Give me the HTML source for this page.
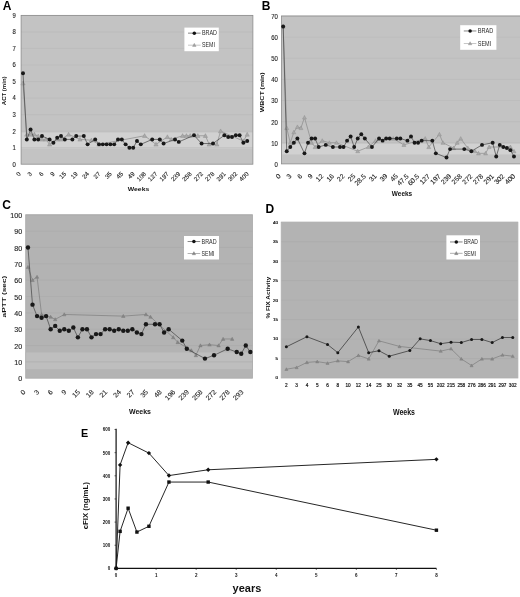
<!DOCTYPE html>
<html lang="en"><head><meta charset="utf-8"><title>Figure: ACT, WBCT, aPTT, FIX activity and cFIX over time</title>
<style>html,body{margin:0;padding:0;background:#fff}body{width:520px;height:597px;overflow:hidden}svg{display:block;will-change:transform;font-family:'Liberation Sans', Arial, Helvetica, sans-serif}</style>
</head><body>
<svg width="520" height="597" viewBox="0 0 520 597">
<rect width="520" height="597" fill="#fff"/>
<g>
<rect x="21.1" y="15.4" width="231.8" height="148.8" fill="#c3c3c3"/>
<rect x="21.1" y="132.46" width="231.8" height="16.04" fill="#d1d1d1"/>
<line x1="21.1" x2="252.9" y1="147.67" y2="147.67" stroke="#b7b7b7" stroke-width="0.5"/>
<line x1="21.1" x2="252.9" y1="131.13" y2="131.13" stroke="#b7b7b7" stroke-width="0.5"/>
<line x1="21.1" x2="252.9" y1="114.6" y2="114.6" stroke="#b7b7b7" stroke-width="0.5"/>
<line x1="21.1" x2="252.9" y1="98.07" y2="98.07" stroke="#b7b7b7" stroke-width="0.5"/>
<line x1="21.1" x2="252.9" y1="81.53" y2="81.53" stroke="#b7b7b7" stroke-width="0.5"/>
<line x1="21.1" x2="252.9" y1="65" y2="65" stroke="#b7b7b7" stroke-width="0.5"/>
<line x1="21.1" x2="252.9" y1="48.47" y2="48.47" stroke="#b7b7b7" stroke-width="0.5"/>
<line x1="21.1" x2="252.9" y1="31.93" y2="31.93" stroke="#b7b7b7" stroke-width="0.5"/>
<line x1="21.1" x2="252.9" y1="15.4" y2="15.4" stroke="#b7b7b7" stroke-width="0.5"/>
<rect x="21.1" y="15.4" width="231.8" height="148.8" fill="none" stroke="#8c8c8c" stroke-width="0.8"/>
<text transform="translate(15.9 166.58) scale(0.9 1)" font-size="6.6" text-anchor="end" fill="#1e1e1e" stroke="#1e1e1e" stroke-width="0.12">0</text>
<text transform="translate(15.9 150.04) scale(0.9 1)" font-size="6.6" text-anchor="end" fill="#1e1e1e" stroke="#1e1e1e" stroke-width="0.12">1</text>
<text transform="translate(15.9 133.51) scale(0.9 1)" font-size="6.6" text-anchor="end" fill="#1e1e1e" stroke="#1e1e1e" stroke-width="0.12">2</text>
<text transform="translate(15.9 116.98) scale(0.9 1)" font-size="6.6" text-anchor="end" fill="#1e1e1e" stroke="#1e1e1e" stroke-width="0.12">3</text>
<text transform="translate(15.9 100.44) scale(0.9 1)" font-size="6.6" text-anchor="end" fill="#1e1e1e" stroke="#1e1e1e" stroke-width="0.12">4</text>
<text transform="translate(15.9 83.91) scale(0.9 1)" font-size="6.6" text-anchor="end" fill="#1e1e1e" stroke="#1e1e1e" stroke-width="0.12">5</text>
<text transform="translate(15.9 67.38) scale(0.9 1)" font-size="6.6" text-anchor="end" fill="#1e1e1e" stroke="#1e1e1e" stroke-width="0.12">6</text>
<text transform="translate(15.9 50.84) scale(0.9 1)" font-size="6.6" text-anchor="end" fill="#1e1e1e" stroke="#1e1e1e" stroke-width="0.12">7</text>
<text transform="translate(15.9 34.31) scale(0.9 1)" font-size="6.6" text-anchor="end" fill="#1e1e1e" stroke="#1e1e1e" stroke-width="0.12">8</text>
<text transform="translate(15.9 17.78) scale(0.9 1)" font-size="6.6" text-anchor="end" fill="#1e1e1e" stroke="#1e1e1e" stroke-width="0.12">9</text>
<text transform="translate(21.1 174.4) rotate(-45)" font-size="6.2" text-anchor="end" fill="#1e1e1e" stroke="#1e1e1e" stroke-width="0.12">0</text>
<text transform="translate(32.5 174.4) rotate(-45)" font-size="6.2" text-anchor="end" fill="#1e1e1e" stroke="#1e1e1e" stroke-width="0.12">3</text>
<text transform="translate(43.9 174.4) rotate(-45)" font-size="6.2" text-anchor="end" fill="#1e1e1e" stroke="#1e1e1e" stroke-width="0.12">6</text>
<text transform="translate(55.3 174.4) rotate(-45)" font-size="6.2" text-anchor="end" fill="#1e1e1e" stroke="#1e1e1e" stroke-width="0.12">9</text>
<text transform="translate(66.7 174.4) rotate(-45)" font-size="6.2" text-anchor="end" fill="#1e1e1e" stroke="#1e1e1e" stroke-width="0.12">15</text>
<text transform="translate(78.1 174.4) rotate(-45)" font-size="6.2" text-anchor="end" fill="#1e1e1e" stroke="#1e1e1e" stroke-width="0.12">19</text>
<text transform="translate(89.5 174.4) rotate(-45)" font-size="6.2" text-anchor="end" fill="#1e1e1e" stroke="#1e1e1e" stroke-width="0.12">24</text>
<text transform="translate(100.9 174.4) rotate(-45)" font-size="6.2" text-anchor="end" fill="#1e1e1e" stroke="#1e1e1e" stroke-width="0.12">27</text>
<text transform="translate(112.3 174.4) rotate(-45)" font-size="6.2" text-anchor="end" fill="#1e1e1e" stroke="#1e1e1e" stroke-width="0.12">35</text>
<text transform="translate(123.7 174.4) rotate(-45)" font-size="6.2" text-anchor="end" fill="#1e1e1e" stroke="#1e1e1e" stroke-width="0.12">45</text>
<text transform="translate(135.1 174.4) rotate(-45)" font-size="6.2" text-anchor="end" fill="#1e1e1e" stroke="#1e1e1e" stroke-width="0.12">49</text>
<text transform="translate(146.5 174.4) rotate(-45)" font-size="6.2" text-anchor="end" fill="#1e1e1e" stroke="#1e1e1e" stroke-width="0.12">108</text>
<text transform="translate(157.9 174.4) rotate(-45)" font-size="6.2" text-anchor="end" fill="#1e1e1e" stroke="#1e1e1e" stroke-width="0.12">127</text>
<text transform="translate(169.3 174.4) rotate(-45)" font-size="6.2" text-anchor="end" fill="#1e1e1e" stroke="#1e1e1e" stroke-width="0.12">197</text>
<text transform="translate(180.7 174.4) rotate(-45)" font-size="6.2" text-anchor="end" fill="#1e1e1e" stroke="#1e1e1e" stroke-width="0.12">239</text>
<text transform="translate(192.1 174.4) rotate(-45)" font-size="6.2" text-anchor="end" fill="#1e1e1e" stroke="#1e1e1e" stroke-width="0.12">258</text>
<text transform="translate(203.5 174.4) rotate(-45)" font-size="6.2" text-anchor="end" fill="#1e1e1e" stroke="#1e1e1e" stroke-width="0.12">272</text>
<text transform="translate(214.9 174.4) rotate(-45)" font-size="6.2" text-anchor="end" fill="#1e1e1e" stroke="#1e1e1e" stroke-width="0.12">278</text>
<text transform="translate(226.3 174.4) rotate(-45)" font-size="6.2" text-anchor="end" fill="#1e1e1e" stroke="#1e1e1e" stroke-width="0.12">291</text>
<text transform="translate(237.7 174.4) rotate(-45)" font-size="6.2" text-anchor="end" fill="#1e1e1e" stroke="#1e1e1e" stroke-width="0.12">302</text>
<text transform="translate(249.1 174.4) rotate(-45)" font-size="6.2" text-anchor="end" fill="#1e1e1e" stroke="#1e1e1e" stroke-width="0.12">400</text>
<polyline fill="none" stroke="#8a8a8a" stroke-width="0.7" stroke-linejoin="round" points="23,83.19 26.8,134.44 30.6,134.44 34.4,134.44 38.2,136.09 42,139.4 45.8,139.4 49.6,144.36 57.2,139.4 61,139.4 68.6,134.44 80,139.4 91.4,140.23 99,144.36 144.6,135.76 156,144.36 167.4,136.92 171.2,139.4 182.6,135.76 186.4,135.76 190.2,135.76 197.8,135.76 205.4,135.76 209.2,144.36 216.8,144.36 220.6,131.13 243.4,141.05 247.2,134.44"/>
<path d="M23 81.04l2.15 3.87h-4.3zM26.8 132.29l2.15 3.87h-4.3zM30.6 132.29l2.15 3.87h-4.3zM34.4 132.29l2.15 3.87h-4.3zM38.2 133.94l2.15 3.87h-4.3zM42 137.25l2.15 3.87h-4.3zM45.8 137.25l2.15 3.87h-4.3zM49.6 142.21l2.15 3.87h-4.3zM57.2 137.25l2.15 3.87h-4.3zM61 137.25l2.15 3.87h-4.3zM68.6 132.29l2.15 3.87h-4.3zM80 137.25l2.15 3.87h-4.3zM91.4 138.08l2.15 3.87h-4.3zM99 142.21l2.15 3.87h-4.3zM144.6 133.61l2.15 3.87h-4.3zM156 142.21l2.15 3.87h-4.3zM167.4 134.77l2.15 3.87h-4.3zM171.2 137.25l2.15 3.87h-4.3zM182.6 133.61l2.15 3.87h-4.3zM186.4 133.61l2.15 3.87h-4.3zM190.2 133.61l2.15 3.87h-4.3zM197.8 133.61l2.15 3.87h-4.3zM205.4 133.61l2.15 3.87h-4.3zM209.2 142.21l2.15 3.87h-4.3zM216.8 142.21l2.15 3.87h-4.3zM220.6 128.98l2.15 3.87h-4.3zM243.4 138.9l2.15 3.87h-4.3zM247.2 132.29l2.15 3.87h-4.3z" fill="#a9a9a9" stroke="#8c8c8c" stroke-width="0.4"/>
<polyline fill="none" stroke="#3a3a3a" stroke-width="0.65" stroke-linejoin="round" points="23,73.27 26.8,139.4 30.6,129.48 34.4,139.4 38.2,139.4 42,136.09 49.6,139.4 53.4,142.71 57.2,137.75 61,136.09 64.8,139.4 72.4,139.4 76.2,136.09 83.8,136.09 87.6,144.36 95.2,139.4 99,144.36 102.8,144.36 106.6,144.36 110.4,144.36 114.2,144.36 118,139.4 121.8,139.4 125.6,144.36 129.4,147.67 133.2,147.67 137,141.05 140.8,144.36 152.2,139.4 159.8,139.4 163.6,143.53 175,139.4 178.8,141.88 194,135.27 201.6,143.53 213,143.53 224.4,135.27 228.2,136.92 232,136.92 235.8,135.27 239.6,135.27 243.4,142.71 247.2,141.05"/>
<circle cx="23" cy="73.27" r="1.98" fill="#181818"/>
<circle cx="26.8" cy="139.4" r="1.98" fill="#181818"/>
<circle cx="30.6" cy="129.48" r="1.98" fill="#181818"/>
<circle cx="34.4" cy="139.4" r="1.98" fill="#181818"/>
<circle cx="38.2" cy="139.4" r="1.98" fill="#181818"/>
<circle cx="42" cy="136.09" r="1.98" fill="#181818"/>
<circle cx="49.6" cy="139.4" r="1.98" fill="#181818"/>
<circle cx="53.4" cy="142.71" r="1.98" fill="#181818"/>
<circle cx="57.2" cy="137.75" r="1.98" fill="#181818"/>
<circle cx="61" cy="136.09" r="1.98" fill="#181818"/>
<circle cx="64.8" cy="139.4" r="1.98" fill="#181818"/>
<circle cx="72.4" cy="139.4" r="1.98" fill="#181818"/>
<circle cx="76.2" cy="136.09" r="1.98" fill="#181818"/>
<circle cx="83.8" cy="136.09" r="1.98" fill="#181818"/>
<circle cx="87.6" cy="144.36" r="1.98" fill="#181818"/>
<circle cx="95.2" cy="139.4" r="1.98" fill="#181818"/>
<circle cx="99" cy="144.36" r="1.98" fill="#181818"/>
<circle cx="102.8" cy="144.36" r="1.98" fill="#181818"/>
<circle cx="106.6" cy="144.36" r="1.98" fill="#181818"/>
<circle cx="110.4" cy="144.36" r="1.98" fill="#181818"/>
<circle cx="114.2" cy="144.36" r="1.98" fill="#181818"/>
<circle cx="118" cy="139.4" r="1.98" fill="#181818"/>
<circle cx="121.8" cy="139.4" r="1.98" fill="#181818"/>
<circle cx="125.6" cy="144.36" r="1.98" fill="#181818"/>
<circle cx="129.4" cy="147.67" r="1.98" fill="#181818"/>
<circle cx="133.2" cy="147.67" r="1.98" fill="#181818"/>
<circle cx="137" cy="141.05" r="1.98" fill="#181818"/>
<circle cx="140.8" cy="144.36" r="1.98" fill="#181818"/>
<circle cx="152.2" cy="139.4" r="1.98" fill="#181818"/>
<circle cx="159.8" cy="139.4" r="1.98" fill="#181818"/>
<circle cx="163.6" cy="143.53" r="1.98" fill="#181818"/>
<circle cx="175" cy="139.4" r="1.98" fill="#181818"/>
<circle cx="178.8" cy="141.88" r="1.98" fill="#181818"/>
<circle cx="194" cy="135.27" r="1.98" fill="#181818"/>
<circle cx="201.6" cy="143.53" r="1.98" fill="#181818"/>
<circle cx="213" cy="143.53" r="1.98" fill="#181818"/>
<circle cx="224.4" cy="135.27" r="1.98" fill="#181818"/>
<circle cx="228.2" cy="136.92" r="1.98" fill="#181818"/>
<circle cx="232" cy="136.92" r="1.98" fill="#181818"/>
<circle cx="235.8" cy="135.27" r="1.98" fill="#181818"/>
<circle cx="239.6" cy="135.27" r="1.98" fill="#181818"/>
<circle cx="243.4" cy="142.71" r="1.98" fill="#181818"/>
<circle cx="247.2" cy="141.05" r="1.98" fill="#181818"/>
<rect x="184.4" y="27.6" width="34.4" height="23.6" fill="#fff"/>
<line x1="188" x2="200.6" y1="33.15" y2="33.15" stroke="#333" stroke-width="0.6"/>
<circle cx="194.3" cy="33.15" r="1.75" fill="#111"/>
<text x="202" y="35.41" font-size="6.3" fill="#2a2a2a" textLength="15" lengthAdjust="spacingAndGlyphs">BRAD</text>
<line x1="188" x2="200.6" y1="45.18" y2="45.18" stroke="#a0a0a0" stroke-width="0.6"/>
<path d="M194.3 43.28l1.8 3.2h-3.6z" fill="#a2a2a2" stroke="#808080" stroke-width="0.3"/>
<text x="202" y="47.45" font-size="6.3" fill="#2a2a2a" textLength="12.9" lengthAdjust="spacingAndGlyphs">SEMI</text>
<text x="127.75" y="190.8" font-size="6.2" font-weight="bold" fill="#111" textLength="21.5" lengthAdjust="spacingAndGlyphs">Weeks</text>
<text transform="translate(5.5 105.2) rotate(-90)" font-size="5.8" font-weight="bold" fill="#111" textLength="28.8" lengthAdjust="spacingAndGlyphs">ACT (min)</text>
<text x="2.7" y="9.5" font-size="12" font-weight="bold" fill="#000">A</text>
</g>
<g>
<rect x="281.4" y="16" width="240.1" height="147.9" fill="#c3c3c3"/>
<rect x="281.4" y="143.62" width="240.1" height="10.78" fill="#d1d1d1"/>
<line x1="281.4" x2="521.5" y1="142.77" y2="142.77" stroke="#b7b7b7" stroke-width="0.5"/>
<line x1="281.4" x2="521.5" y1="121.64" y2="121.64" stroke="#b7b7b7" stroke-width="0.5"/>
<line x1="281.4" x2="521.5" y1="100.51" y2="100.51" stroke="#b7b7b7" stroke-width="0.5"/>
<line x1="281.4" x2="521.5" y1="79.39" y2="79.39" stroke="#b7b7b7" stroke-width="0.5"/>
<line x1="281.4" x2="521.5" y1="58.26" y2="58.26" stroke="#b7b7b7" stroke-width="0.5"/>
<line x1="281.4" x2="521.5" y1="37.13" y2="37.13" stroke="#b7b7b7" stroke-width="0.5"/>
<line x1="281.4" x2="521.5" y1="16" y2="16" stroke="#b7b7b7" stroke-width="0.5"/>
<rect x="281.4" y="16" width="240.1" height="147.9" fill="none" stroke="#8c8c8c" stroke-width="0.8"/>
<text transform="translate(277.9 166.85) scale(0.88 1)" font-size="6.8" text-anchor="end" fill="#1e1e1e" stroke="#1e1e1e" stroke-width="0.12">0</text>
<text transform="translate(277.9 145.72) scale(0.88 1)" font-size="6.8" text-anchor="end" fill="#1e1e1e" stroke="#1e1e1e" stroke-width="0.12">10</text>
<text transform="translate(277.9 124.59) scale(0.88 1)" font-size="6.8" text-anchor="end" fill="#1e1e1e" stroke="#1e1e1e" stroke-width="0.12">20</text>
<text transform="translate(277.9 103.46) scale(0.88 1)" font-size="6.8" text-anchor="end" fill="#1e1e1e" stroke="#1e1e1e" stroke-width="0.12">30</text>
<text transform="translate(277.9 82.33) scale(0.88 1)" font-size="6.8" text-anchor="end" fill="#1e1e1e" stroke="#1e1e1e" stroke-width="0.12">40</text>
<text transform="translate(277.9 61.21) scale(0.88 1)" font-size="6.8" text-anchor="end" fill="#1e1e1e" stroke="#1e1e1e" stroke-width="0.12">50</text>
<text transform="translate(277.9 40.08) scale(0.88 1)" font-size="6.8" text-anchor="end" fill="#1e1e1e" stroke="#1e1e1e" stroke-width="0.12">60</text>
<text transform="translate(277.9 18.95) scale(0.88 1)" font-size="6.8" text-anchor="end" fill="#1e1e1e" stroke="#1e1e1e" stroke-width="0.12">70</text>
<text transform="translate(281.28 176.7) rotate(-45)" font-size="6.8" text-anchor="end" fill="#1e1e1e" stroke="#1e1e1e" stroke-width="0.12">0</text>
<text transform="translate(291.93 176.7) rotate(-45)" font-size="6.8" text-anchor="end" fill="#1e1e1e" stroke="#1e1e1e" stroke-width="0.12">3</text>
<text transform="translate(302.58 176.7) rotate(-45)" font-size="6.8" text-anchor="end" fill="#1e1e1e" stroke="#1e1e1e" stroke-width="0.12">6</text>
<text transform="translate(313.23 176.7) rotate(-45)" font-size="6.8" text-anchor="end" fill="#1e1e1e" stroke="#1e1e1e" stroke-width="0.12">9</text>
<text transform="translate(323.88 176.7) rotate(-45)" font-size="6.8" text-anchor="end" fill="#1e1e1e" stroke="#1e1e1e" stroke-width="0.12">12</text>
<text transform="translate(334.54 176.7) rotate(-45)" font-size="6.8" text-anchor="end" fill="#1e1e1e" stroke="#1e1e1e" stroke-width="0.12">16</text>
<text transform="translate(345.19 176.7) rotate(-45)" font-size="6.8" text-anchor="end" fill="#1e1e1e" stroke="#1e1e1e" stroke-width="0.12">22</text>
<text transform="translate(355.84 176.7) rotate(-45)" font-size="6.8" text-anchor="end" fill="#1e1e1e" stroke="#1e1e1e" stroke-width="0.12">25</text>
<text transform="translate(366.49 176.7) rotate(-45)" font-size="6.8" text-anchor="end" fill="#1e1e1e" stroke="#1e1e1e" stroke-width="0.12">28.5</text>
<text transform="translate(377.15 176.7) rotate(-45)" font-size="6.8" text-anchor="end" fill="#1e1e1e" stroke="#1e1e1e" stroke-width="0.12">31</text>
<text transform="translate(387.8 176.7) rotate(-45)" font-size="6.8" text-anchor="end" fill="#1e1e1e" stroke="#1e1e1e" stroke-width="0.12">39</text>
<text transform="translate(398.45 176.7) rotate(-45)" font-size="6.8" text-anchor="end" fill="#1e1e1e" stroke="#1e1e1e" stroke-width="0.12">45</text>
<text transform="translate(409.1 176.7) rotate(-45)" font-size="6.8" text-anchor="end" fill="#1e1e1e" stroke="#1e1e1e" stroke-width="0.12">47.5</text>
<text transform="translate(419.75 176.7) rotate(-45)" font-size="6.8" text-anchor="end" fill="#1e1e1e" stroke="#1e1e1e" stroke-width="0.12">60.5</text>
<text transform="translate(430.41 176.7) rotate(-45)" font-size="6.8" text-anchor="end" fill="#1e1e1e" stroke="#1e1e1e" stroke-width="0.12">127</text>
<text transform="translate(441.06 176.7) rotate(-45)" font-size="6.8" text-anchor="end" fill="#1e1e1e" stroke="#1e1e1e" stroke-width="0.12">197</text>
<text transform="translate(451.71 176.7) rotate(-45)" font-size="6.8" text-anchor="end" fill="#1e1e1e" stroke="#1e1e1e" stroke-width="0.12">239</text>
<text transform="translate(462.36 176.7) rotate(-45)" font-size="6.8" text-anchor="end" fill="#1e1e1e" stroke="#1e1e1e" stroke-width="0.12">258</text>
<text transform="translate(473.02 176.7) rotate(-45)" font-size="6.8" text-anchor="end" fill="#1e1e1e" stroke="#1e1e1e" stroke-width="0.12">272</text>
<text transform="translate(483.67 176.7) rotate(-45)" font-size="6.8" text-anchor="end" fill="#1e1e1e" stroke="#1e1e1e" stroke-width="0.12">278</text>
<text transform="translate(494.32 176.7) rotate(-45)" font-size="6.8" text-anchor="end" fill="#1e1e1e" stroke="#1e1e1e" stroke-width="0.12">291</text>
<text transform="translate(504.97 176.7) rotate(-45)" font-size="6.8" text-anchor="end" fill="#1e1e1e" stroke="#1e1e1e" stroke-width="0.12">302</text>
<text transform="translate(515.62 176.7) rotate(-45)" font-size="6.8" text-anchor="end" fill="#1e1e1e" stroke="#1e1e1e" stroke-width="0.12">400</text>
<polyline fill="none" stroke="#8a8a8a" stroke-width="0.7" stroke-linejoin="round" points="283.18,26.56 286.73,127.98 290.28,142.77 293.83,132.21 297.38,126.93 300.93,127.98 304.48,117.42 311.58,142.77 315.13,147 322.23,140.66 329.34,142.77 336.44,142.77 357.74,151.22 368.39,147 375.49,140.66 393.25,138.55 403.9,144.88 425.21,138.55 428.76,147 439.41,134.32 442.96,142.77 453.61,148.05 457.16,142.77 460.71,138.55 467.81,148.05 474.92,151.22 478.47,153.34 485.57,153.34 489.12,147 510.42,147 513.97,151.22"/>
<path d="M283.18 24.56l2 3.6h-4zM286.73 125.98l2 3.6h-4zM290.28 140.77l2 3.6h-4zM293.83 130.21l2 3.6h-4zM297.38 124.93l2 3.6h-4zM300.93 125.98l2 3.6h-4zM304.48 115.42l2 3.6h-4zM311.58 140.77l2 3.6h-4zM315.13 145l2 3.6h-4zM322.23 138.66l2 3.6h-4zM329.34 140.77l2 3.6h-4zM336.44 140.77l2 3.6h-4zM357.74 149.22l2 3.6h-4zM368.39 145l2 3.6h-4zM375.49 138.66l2 3.6h-4zM393.25 136.55l2 3.6h-4zM403.9 142.88l2 3.6h-4zM425.21 136.55l2 3.6h-4zM428.76 145l2 3.6h-4zM439.41 132.32l2 3.6h-4zM442.96 140.77l2 3.6h-4zM453.61 146.05l2 3.6h-4zM457.16 140.77l2 3.6h-4zM460.71 136.55l2 3.6h-4zM467.81 146.05l2 3.6h-4zM474.92 149.22l2 3.6h-4zM478.47 151.34l2 3.6h-4zM485.57 151.34l2 3.6h-4zM489.12 145l2 3.6h-4zM510.42 145l2 3.6h-4zM513.97 149.22l2 3.6h-4z" fill="#a9a9a9" stroke="#8c8c8c" stroke-width="0.4"/>
<polyline fill="none" stroke="#3a3a3a" stroke-width="0.65" stroke-linejoin="round" points="283.18,26.56 286.73,151.22 290.28,147 293.83,142.77 297.38,138.55 304.48,153.34 308.03,142.77 311.58,138.55 315.13,138.55 318.68,147 325.78,144.88 332.89,147 339.99,147 343.54,147 347.09,140.66 350.64,136.43 354.19,147 357.74,138.55 361.29,134.32 364.84,138.55 371.94,147 379.05,138.55 382.6,140.66 386.15,138.55 389.7,138.55 396.8,138.55 400.35,138.55 407.45,140.66 411,136.43 414.55,142.77 418.1,142.77 421.65,140.66 432.31,140.66 435.86,153.34 446.51,157.56 450.06,149.11 464.26,149.11 471.36,151.22 482.02,144.88 492.67,142.77 496.22,156.5 499.77,144.88 503.32,147 506.87,148.05 510.42,150.17 513.97,156.5"/>
<circle cx="283.18" cy="26.56" r="1.95" fill="#181818"/>
<circle cx="286.73" cy="151.22" r="1.95" fill="#181818"/>
<circle cx="290.28" cy="147" r="1.95" fill="#181818"/>
<circle cx="293.83" cy="142.77" r="1.95" fill="#181818"/>
<circle cx="297.38" cy="138.55" r="1.95" fill="#181818"/>
<circle cx="304.48" cy="153.34" r="1.95" fill="#181818"/>
<circle cx="308.03" cy="142.77" r="1.95" fill="#181818"/>
<circle cx="311.58" cy="138.55" r="1.95" fill="#181818"/>
<circle cx="315.13" cy="138.55" r="1.95" fill="#181818"/>
<circle cx="318.68" cy="147" r="1.95" fill="#181818"/>
<circle cx="325.78" cy="144.88" r="1.95" fill="#181818"/>
<circle cx="332.89" cy="147" r="1.95" fill="#181818"/>
<circle cx="339.99" cy="147" r="1.95" fill="#181818"/>
<circle cx="343.54" cy="147" r="1.95" fill="#181818"/>
<circle cx="347.09" cy="140.66" r="1.95" fill="#181818"/>
<circle cx="350.64" cy="136.43" r="1.95" fill="#181818"/>
<circle cx="354.19" cy="147" r="1.95" fill="#181818"/>
<circle cx="357.74" cy="138.55" r="1.95" fill="#181818"/>
<circle cx="361.29" cy="134.32" r="1.95" fill="#181818"/>
<circle cx="364.84" cy="138.55" r="1.95" fill="#181818"/>
<circle cx="371.94" cy="147" r="1.95" fill="#181818"/>
<circle cx="379.05" cy="138.55" r="1.95" fill="#181818"/>
<circle cx="382.6" cy="140.66" r="1.95" fill="#181818"/>
<circle cx="386.15" cy="138.55" r="1.95" fill="#181818"/>
<circle cx="389.7" cy="138.55" r="1.95" fill="#181818"/>
<circle cx="396.8" cy="138.55" r="1.95" fill="#181818"/>
<circle cx="400.35" cy="138.55" r="1.95" fill="#181818"/>
<circle cx="407.45" cy="140.66" r="1.95" fill="#181818"/>
<circle cx="411" cy="136.43" r="1.95" fill="#181818"/>
<circle cx="414.55" cy="142.77" r="1.95" fill="#181818"/>
<circle cx="418.1" cy="142.77" r="1.95" fill="#181818"/>
<circle cx="421.65" cy="140.66" r="1.95" fill="#181818"/>
<circle cx="432.31" cy="140.66" r="1.95" fill="#181818"/>
<circle cx="435.86" cy="153.34" r="1.95" fill="#181818"/>
<circle cx="446.51" cy="157.56" r="1.95" fill="#181818"/>
<circle cx="450.06" cy="149.11" r="1.95" fill="#181818"/>
<circle cx="464.26" cy="149.11" r="1.95" fill="#181818"/>
<circle cx="471.36" cy="151.22" r="1.95" fill="#181818"/>
<circle cx="482.02" cy="144.88" r="1.95" fill="#181818"/>
<circle cx="492.67" cy="142.77" r="1.95" fill="#181818"/>
<circle cx="496.22" cy="156.5" r="1.95" fill="#181818"/>
<circle cx="499.77" cy="144.88" r="1.95" fill="#181818"/>
<circle cx="503.32" cy="147" r="1.95" fill="#181818"/>
<circle cx="506.87" cy="148.05" r="1.95" fill="#181818"/>
<circle cx="510.42" cy="150.17" r="1.95" fill="#181818"/>
<circle cx="513.97" cy="156.5" r="1.95" fill="#181818"/>
<rect x="460.2" y="25.2" width="36.2" height="24.6" fill="#fff"/>
<line x1="463.8" x2="476.4" y1="30.98" y2="30.98" stroke="#333" stroke-width="0.6"/>
<circle cx="470.1" cy="30.98" r="1.75" fill="#111"/>
<text x="477.8" y="33.25" font-size="6.3" fill="#2a2a2a" textLength="15.6" lengthAdjust="spacingAndGlyphs">BRAD</text>
<line x1="463.8" x2="476.4" y1="43.53" y2="43.53" stroke="#a0a0a0" stroke-width="0.6"/>
<path d="M470.1 41.63l1.8 3.2h-3.6z" fill="#a2a2a2" stroke="#808080" stroke-width="0.3"/>
<text x="477.8" y="45.8" font-size="6.3" fill="#2a2a2a" textLength="13.42" lengthAdjust="spacingAndGlyphs">SEMI</text>
<text x="391.85" y="196" font-size="6.5" font-weight="bold" fill="#111" textLength="20.3" lengthAdjust="spacingAndGlyphs">Weeks</text>
<text transform="translate(264.3 112.25) rotate(-90)" font-size="5.9" font-weight="bold" fill="#111" textLength="39.9" lengthAdjust="spacingAndGlyphs">WBCT (min)</text>
<text x="261.8" y="10.4" font-size="12" font-weight="bold" fill="#000">B</text>
</g>
<g>
<rect x="25.7" y="214.8" width="226.9" height="163.4" fill="#b3b3b3"/>
<rect x="25.7" y="352.38" width="226.9" height="16.83" fill="#bebebe"/>
<line x1="25.7" x2="252.6" y1="361.86" y2="361.86" stroke="#a9a9a9" stroke-width="0.5"/>
<line x1="25.7" x2="252.6" y1="345.52" y2="345.52" stroke="#a9a9a9" stroke-width="0.5"/>
<line x1="25.7" x2="252.6" y1="329.18" y2="329.18" stroke="#a9a9a9" stroke-width="0.5"/>
<line x1="25.7" x2="252.6" y1="312.84" y2="312.84" stroke="#a9a9a9" stroke-width="0.5"/>
<line x1="25.7" x2="252.6" y1="296.5" y2="296.5" stroke="#a9a9a9" stroke-width="0.5"/>
<line x1="25.7" x2="252.6" y1="280.16" y2="280.16" stroke="#a9a9a9" stroke-width="0.5"/>
<line x1="25.7" x2="252.6" y1="263.82" y2="263.82" stroke="#a9a9a9" stroke-width="0.5"/>
<line x1="25.7" x2="252.6" y1="247.48" y2="247.48" stroke="#a9a9a9" stroke-width="0.5"/>
<line x1="25.7" x2="252.6" y1="231.14" y2="231.14" stroke="#a9a9a9" stroke-width="0.5"/>
<line x1="25.7" x2="252.6" y1="214.8" y2="214.8" stroke="#a9a9a9" stroke-width="0.5"/>
<rect x="25.7" y="214.8" width="226.9" height="163.4" fill="none" stroke="#aaaaaa" stroke-width="0.8"/>
<text transform="translate(22.2 381.48) scale(1.08 1)" font-size="6.6" text-anchor="end" fill="#1e1e1e" stroke="#1e1e1e" stroke-width="0.12">0</text>
<text transform="translate(22.2 365.14) scale(1.08 1)" font-size="6.6" text-anchor="end" fill="#1e1e1e" stroke="#1e1e1e" stroke-width="0.12">10</text>
<text transform="translate(22.2 348.8) scale(1.08 1)" font-size="6.6" text-anchor="end" fill="#1e1e1e" stroke="#1e1e1e" stroke-width="0.12">20</text>
<text transform="translate(22.2 332.46) scale(1.08 1)" font-size="6.6" text-anchor="end" fill="#1e1e1e" stroke="#1e1e1e" stroke-width="0.12">30</text>
<text transform="translate(22.2 316.12) scale(1.08 1)" font-size="6.6" text-anchor="end" fill="#1e1e1e" stroke="#1e1e1e" stroke-width="0.12">40</text>
<text transform="translate(22.2 299.78) scale(1.08 1)" font-size="6.6" text-anchor="end" fill="#1e1e1e" stroke="#1e1e1e" stroke-width="0.12">50</text>
<text transform="translate(22.2 283.44) scale(1.08 1)" font-size="6.6" text-anchor="end" fill="#1e1e1e" stroke="#1e1e1e" stroke-width="0.12">60</text>
<text transform="translate(22.2 267.1) scale(1.08 1)" font-size="6.6" text-anchor="end" fill="#1e1e1e" stroke="#1e1e1e" stroke-width="0.12">70</text>
<text transform="translate(22.2 250.76) scale(1.08 1)" font-size="6.6" text-anchor="end" fill="#1e1e1e" stroke="#1e1e1e" stroke-width="0.12">80</text>
<text transform="translate(22.2 234.42) scale(1.08 1)" font-size="6.6" text-anchor="end" fill="#1e1e1e" stroke="#1e1e1e" stroke-width="0.12">90</text>
<text transform="translate(22.2 218.08) scale(1.08 1)" font-size="6.6" text-anchor="end" fill="#1e1e1e" stroke="#1e1e1e" stroke-width="0.12">100</text>
<text transform="translate(26.07 392.6) rotate(-45)" font-size="6.9" text-anchor="end" fill="#1e1e1e" stroke="#1e1e1e" stroke-width="0.12">0</text>
<text transform="translate(39.68 392.6) rotate(-45)" font-size="6.9" text-anchor="end" fill="#1e1e1e" stroke="#1e1e1e" stroke-width="0.12">3</text>
<text transform="translate(53.3 392.6) rotate(-45)" font-size="6.9" text-anchor="end" fill="#1e1e1e" stroke="#1e1e1e" stroke-width="0.12">6</text>
<text transform="translate(66.91 392.6) rotate(-45)" font-size="6.9" text-anchor="end" fill="#1e1e1e" stroke="#1e1e1e" stroke-width="0.12">9</text>
<text transform="translate(80.52 392.6) rotate(-45)" font-size="6.9" text-anchor="end" fill="#1e1e1e" stroke="#1e1e1e" stroke-width="0.12">15</text>
<text transform="translate(94.14 392.6) rotate(-45)" font-size="6.9" text-anchor="end" fill="#1e1e1e" stroke="#1e1e1e" stroke-width="0.12">18</text>
<text transform="translate(107.75 392.6) rotate(-45)" font-size="6.9" text-anchor="end" fill="#1e1e1e" stroke="#1e1e1e" stroke-width="0.12">21</text>
<text transform="translate(121.37 392.6) rotate(-45)" font-size="6.9" text-anchor="end" fill="#1e1e1e" stroke="#1e1e1e" stroke-width="0.12">24</text>
<text transform="translate(134.98 392.6) rotate(-45)" font-size="6.9" text-anchor="end" fill="#1e1e1e" stroke="#1e1e1e" stroke-width="0.12">27</text>
<text transform="translate(148.59 392.6) rotate(-45)" font-size="6.9" text-anchor="end" fill="#1e1e1e" stroke="#1e1e1e" stroke-width="0.12">35</text>
<text transform="translate(162.21 392.6) rotate(-45)" font-size="6.9" text-anchor="end" fill="#1e1e1e" stroke="#1e1e1e" stroke-width="0.12">48</text>
<text transform="translate(175.82 392.6) rotate(-45)" font-size="6.9" text-anchor="end" fill="#1e1e1e" stroke="#1e1e1e" stroke-width="0.12">196</text>
<text transform="translate(189.44 392.6) rotate(-45)" font-size="6.9" text-anchor="end" fill="#1e1e1e" stroke="#1e1e1e" stroke-width="0.12">239</text>
<text transform="translate(203.05 392.6) rotate(-45)" font-size="6.9" text-anchor="end" fill="#1e1e1e" stroke="#1e1e1e" stroke-width="0.12">258</text>
<text transform="translate(216.66 392.6) rotate(-45)" font-size="6.9" text-anchor="end" fill="#1e1e1e" stroke="#1e1e1e" stroke-width="0.12">272</text>
<text transform="translate(230.28 392.6) rotate(-45)" font-size="6.9" text-anchor="end" fill="#1e1e1e" stroke="#1e1e1e" stroke-width="0.12">278</text>
<text transform="translate(243.89 392.6) rotate(-45)" font-size="6.9" text-anchor="end" fill="#1e1e1e" stroke="#1e1e1e" stroke-width="0.12">293</text>
<polyline fill="none" stroke="#7d7d7d" stroke-width="0.7" stroke-linejoin="round" points="27.97,267.09 32.51,280.16 37.05,276.89 41.58,314.47 46.12,316.11 50.66,316.93 55.2,319.38 64.27,314.47 123.27,316.11 145.96,314.47 150.5,316.93 173.19,337.35 177.72,342.25 191.34,350.42 195.88,355.32 200.41,345.52 209.49,344.7 218.56,345.52 223.1,338.98 232.18,338.98"/>
<path d="M27.97 265.34l1.75 3.15h-3.5zM32.51 278.41l1.75 3.15h-3.5zM37.05 275.14l1.75 3.15h-3.5zM41.58 312.72l1.75 3.15h-3.5zM46.12 314.36l1.75 3.15h-3.5zM50.66 315.18l1.75 3.15h-3.5zM55.2 317.63l1.75 3.15h-3.5zM64.27 312.72l1.75 3.15h-3.5zM123.27 314.36l1.75 3.15h-3.5zM145.96 312.72l1.75 3.15h-3.5zM150.5 315.18l1.75 3.15h-3.5zM173.19 335.6l1.75 3.15h-3.5zM177.72 340.5l1.75 3.15h-3.5zM191.34 348.67l1.75 3.15h-3.5zM195.88 353.57l1.75 3.15h-3.5zM200.41 343.77l1.75 3.15h-3.5zM209.49 342.95l1.75 3.15h-3.5zM218.56 343.77l1.75 3.15h-3.5zM223.1 337.23l1.75 3.15h-3.5zM232.18 337.23l1.75 3.15h-3.5z" fill="#868686" stroke="#777" stroke-width="0.4"/>
<polyline fill="none" stroke="#3a3a3a" stroke-width="0.65" stroke-linejoin="round" points="27.97,247.48 32.51,304.67 37.05,316.11 41.58,317.74 46.12,316.11 50.66,329.18 55.2,325.91 59.73,330.81 64.27,329.18 68.81,330.81 73.35,327.55 77.89,337.35 82.42,329.18 86.96,329.18 91.5,337.35 96.04,334.08 100.58,334.08 105.12,329.18 109.65,329.18 114.19,330.81 118.73,329.18 123.27,330.81 127.81,330.81 132.34,329.18 136.88,332.45 141.42,334.08 145.96,324.28 155.03,324.28 159.57,324.28 164.11,332.45 168.65,329.18 182.26,340.62 186.8,348.79 204.95,358.59 214.03,355.32 227.64,348.79 236.72,352.06 241.25,353.69 245.79,345.52 250.33,352.06"/>
<circle cx="27.97" cy="247.48" r="2.2" fill="#181818"/>
<circle cx="32.51" cy="304.67" r="2.2" fill="#181818"/>
<circle cx="37.05" cy="316.11" r="2.2" fill="#181818"/>
<circle cx="41.58" cy="317.74" r="2.2" fill="#181818"/>
<circle cx="46.12" cy="316.11" r="2.2" fill="#181818"/>
<circle cx="50.66" cy="329.18" r="2.2" fill="#181818"/>
<circle cx="55.2" cy="325.91" r="2.2" fill="#181818"/>
<circle cx="59.73" cy="330.81" r="2.2" fill="#181818"/>
<circle cx="64.27" cy="329.18" r="2.2" fill="#181818"/>
<circle cx="68.81" cy="330.81" r="2.2" fill="#181818"/>
<circle cx="73.35" cy="327.55" r="2.2" fill="#181818"/>
<circle cx="77.89" cy="337.35" r="2.2" fill="#181818"/>
<circle cx="82.42" cy="329.18" r="2.2" fill="#181818"/>
<circle cx="86.96" cy="329.18" r="2.2" fill="#181818"/>
<circle cx="91.5" cy="337.35" r="2.2" fill="#181818"/>
<circle cx="96.04" cy="334.08" r="2.2" fill="#181818"/>
<circle cx="100.58" cy="334.08" r="2.2" fill="#181818"/>
<circle cx="105.12" cy="329.18" r="2.2" fill="#181818"/>
<circle cx="109.65" cy="329.18" r="2.2" fill="#181818"/>
<circle cx="114.19" cy="330.81" r="2.2" fill="#181818"/>
<circle cx="118.73" cy="329.18" r="2.2" fill="#181818"/>
<circle cx="123.27" cy="330.81" r="2.2" fill="#181818"/>
<circle cx="127.81" cy="330.81" r="2.2" fill="#181818"/>
<circle cx="132.34" cy="329.18" r="2.2" fill="#181818"/>
<circle cx="136.88" cy="332.45" r="2.2" fill="#181818"/>
<circle cx="141.42" cy="334.08" r="2.2" fill="#181818"/>
<circle cx="145.96" cy="324.28" r="2.2" fill="#181818"/>
<circle cx="155.03" cy="324.28" r="2.2" fill="#181818"/>
<circle cx="159.57" cy="324.28" r="2.2" fill="#181818"/>
<circle cx="164.11" cy="332.45" r="2.2" fill="#181818"/>
<circle cx="168.65" cy="329.18" r="2.2" fill="#181818"/>
<circle cx="182.26" cy="340.62" r="2.2" fill="#181818"/>
<circle cx="186.8" cy="348.79" r="2.2" fill="#181818"/>
<circle cx="204.95" cy="358.59" r="2.2" fill="#181818"/>
<circle cx="214.03" cy="355.32" r="2.2" fill="#181818"/>
<circle cx="227.64" cy="348.79" r="2.2" fill="#181818"/>
<circle cx="236.72" cy="352.06" r="2.2" fill="#181818"/>
<circle cx="241.25" cy="353.69" r="2.2" fill="#181818"/>
<circle cx="245.79" cy="345.52" r="2.2" fill="#181818"/>
<circle cx="250.33" cy="352.06" r="2.2" fill="#181818"/>
<rect x="184" y="236" width="35" height="23.5" fill="#fff"/>
<line x1="187.6" x2="200.2" y1="241.52" y2="241.52" stroke="#333" stroke-width="0.6"/>
<circle cx="193.9" cy="241.52" r="1.75" fill="#111"/>
<text x="201.6" y="243.79" font-size="6.3" fill="#2a2a2a" textLength="15" lengthAdjust="spacingAndGlyphs">BRAD</text>
<line x1="187.6" x2="200.2" y1="253.51" y2="253.51" stroke="#7d7d7d" stroke-width="0.6"/>
<path d="M193.9 251.61l1.8 3.2h-3.6z" fill="#868686" stroke="#777" stroke-width="0.3"/>
<text x="201.6" y="255.78" font-size="6.3" fill="#2a2a2a" textLength="12.9" lengthAdjust="spacingAndGlyphs">SEMI</text>
<text x="129" y="414.2" font-size="6.3" font-weight="bold" fill="#111" textLength="22" lengthAdjust="spacingAndGlyphs">Weeks</text>
<text transform="translate(5.9 317.4) rotate(-90)" font-size="5.4" font-weight="bold" fill="#111" textLength="41.6" lengthAdjust="spacingAndGlyphs">aPTT (sec)</text>
<text x="2.3" y="209.3" font-size="12" font-weight="bold" fill="#000">C</text>
</g>
<g>
<rect x="281.2" y="222.2" width="236.7" height="155.8" fill="#b3b3b3"/>
<line x1="281.2" x2="517.9" y1="358.52" y2="358.52" stroke="#a9a9a9" stroke-width="0.5"/>
<line x1="281.2" x2="517.9" y1="339.05" y2="339.05" stroke="#a9a9a9" stroke-width="0.5"/>
<line x1="281.2" x2="517.9" y1="319.57" y2="319.57" stroke="#a9a9a9" stroke-width="0.5"/>
<line x1="281.2" x2="517.9" y1="300.1" y2="300.1" stroke="#a9a9a9" stroke-width="0.5"/>
<line x1="281.2" x2="517.9" y1="280.62" y2="280.62" stroke="#a9a9a9" stroke-width="0.5"/>
<line x1="281.2" x2="517.9" y1="261.15" y2="261.15" stroke="#a9a9a9" stroke-width="0.5"/>
<line x1="281.2" x2="517.9" y1="241.68" y2="241.68" stroke="#a9a9a9" stroke-width="0.5"/>
<line x1="281.2" x2="517.9" y1="222.2" y2="222.2" stroke="#a9a9a9" stroke-width="0.5"/>
<rect x="281.2" y="222.2" width="236.7" height="155.8" fill="none" stroke="#b0b0b0" stroke-width="0.8"/>
<text transform="translate(278.1 379.4) scale(1.15 1)" font-size="3.9" text-anchor="end" fill="#111" stroke="#111" stroke-width="0.18">0</text>
<text transform="translate(278.1 359.93) scale(1.15 1)" font-size="3.9" text-anchor="end" fill="#111" stroke="#111" stroke-width="0.18">5</text>
<text transform="translate(278.1 340.45) scale(1.15 1)" font-size="3.9" text-anchor="end" fill="#111" stroke="#111" stroke-width="0.18">10</text>
<text transform="translate(278.1 320.98) scale(1.15 1)" font-size="3.9" text-anchor="end" fill="#111" stroke="#111" stroke-width="0.18">15</text>
<text transform="translate(278.1 301.5) scale(1.15 1)" font-size="3.9" text-anchor="end" fill="#111" stroke="#111" stroke-width="0.18">20</text>
<text transform="translate(278.1 282.03) scale(1.15 1)" font-size="3.9" text-anchor="end" fill="#111" stroke="#111" stroke-width="0.18">25</text>
<text transform="translate(278.1 262.55) scale(1.15 1)" font-size="3.9" text-anchor="end" fill="#111" stroke="#111" stroke-width="0.18">30</text>
<text transform="translate(278.1 243.08) scale(1.15 1)" font-size="3.9" text-anchor="end" fill="#111" stroke="#111" stroke-width="0.18">35</text>
<text transform="translate(278.1 223.6) scale(1.15 1)" font-size="3.9" text-anchor="end" fill="#111" stroke="#111" stroke-width="0.18">40</text>
<text x="286.35" y="386.9" font-size="4.7" text-anchor="middle" fill="#111" stroke="#111" stroke-width="0.18">2</text>
<text x="296.64" y="386.9" font-size="4.7" text-anchor="middle" fill="#111" stroke="#111" stroke-width="0.18">3</text>
<text x="306.93" y="386.9" font-size="4.7" text-anchor="middle" fill="#111" stroke="#111" stroke-width="0.18">4</text>
<text x="317.22" y="386.9" font-size="4.7" text-anchor="middle" fill="#111" stroke="#111" stroke-width="0.18">5</text>
<text x="327.51" y="386.9" font-size="4.7" text-anchor="middle" fill="#111" stroke="#111" stroke-width="0.18">6</text>
<text x="337.8" y="386.9" font-size="4.7" text-anchor="middle" fill="#111" stroke="#111" stroke-width="0.18">8</text>
<text x="348.09" y="386.9" font-size="4.7" text-anchor="middle" fill="#111" stroke="#111" stroke-width="0.18">10</text>
<text x="358.38" y="386.9" font-size="4.7" text-anchor="middle" fill="#111" stroke="#111" stroke-width="0.18">12</text>
<text x="368.68" y="386.9" font-size="4.7" text-anchor="middle" fill="#111" stroke="#111" stroke-width="0.18">14</text>
<text x="378.97" y="386.9" font-size="4.7" text-anchor="middle" fill="#111" stroke="#111" stroke-width="0.18">25</text>
<text x="389.26" y="386.9" font-size="4.7" text-anchor="middle" fill="#111" stroke="#111" stroke-width="0.18">30</text>
<text x="399.55" y="386.9" font-size="4.7" text-anchor="middle" fill="#111" stroke="#111" stroke-width="0.18">32</text>
<text x="409.84" y="386.9" font-size="4.7" text-anchor="middle" fill="#111" stroke="#111" stroke-width="0.18">35</text>
<text x="420.13" y="386.9" font-size="4.7" text-anchor="middle" fill="#111" stroke="#111" stroke-width="0.18">45</text>
<text x="430.42" y="386.9" font-size="4.7" text-anchor="middle" fill="#111" stroke="#111" stroke-width="0.18">55</text>
<text x="440.72" y="386.9" font-size="4.7" text-anchor="middle" fill="#111" stroke="#111" stroke-width="0.18">202</text>
<text x="451.01" y="386.9" font-size="4.7" text-anchor="middle" fill="#111" stroke="#111" stroke-width="0.18">215</text>
<text x="461.3" y="386.9" font-size="4.7" text-anchor="middle" fill="#111" stroke="#111" stroke-width="0.18">258</text>
<text x="471.59" y="386.9" font-size="4.7" text-anchor="middle" fill="#111" stroke="#111" stroke-width="0.18">276</text>
<text x="481.88" y="386.9" font-size="4.7" text-anchor="middle" fill="#111" stroke="#111" stroke-width="0.18">286</text>
<text x="492.17" y="386.9" font-size="4.7" text-anchor="middle" fill="#111" stroke="#111" stroke-width="0.18">291</text>
<text x="502.46" y="386.9" font-size="4.7" text-anchor="middle" fill="#111" stroke="#111" stroke-width="0.18">297</text>
<text x="512.75" y="386.9" font-size="4.7" text-anchor="middle" fill="#111" stroke="#111" stroke-width="0.18">302</text>
<polyline fill="none" stroke="#7d7d7d" stroke-width="0.7" stroke-linejoin="round" points="286.35,369.24 296.64,367.48 306.93,362.42 317.22,361.64 327.51,363.2 337.8,360.86 348.09,361.64 358.38,355.41 368.68,358.91 378.97,340.8 399.55,346.45 440.72,351.12 451.01,348.79 461.3,358.91 471.59,365.54 481.88,358.91 492.17,358.91 502.46,355.02 512.75,356.19"/>
<path d="M286.35 367.69l1.55 2.79h-3.1zM296.64 365.93l1.55 2.79h-3.1zM306.93 360.87l1.55 2.79h-3.1zM317.22 360.09l1.55 2.79h-3.1zM327.51 361.65l1.55 2.79h-3.1zM337.8 359.31l1.55 2.79h-3.1zM348.09 360.09l1.55 2.79h-3.1zM358.38 353.86l1.55 2.79h-3.1zM368.68 357.36l1.55 2.79h-3.1zM378.97 339.25l1.55 2.79h-3.1zM399.55 344.9l1.55 2.79h-3.1zM440.72 349.57l1.55 2.79h-3.1zM451.01 347.24l1.55 2.79h-3.1zM461.3 357.36l1.55 2.79h-3.1zM471.59 363.99l1.55 2.79h-3.1zM481.88 357.36l1.55 2.79h-3.1zM492.17 357.36l1.55 2.79h-3.1zM502.46 353.47l1.55 2.79h-3.1zM512.75 354.64l1.55 2.79h-3.1z" fill="#8a8a8a" stroke="#777" stroke-width="0.4"/>
<polyline fill="none" stroke="#222" stroke-width="0.65" stroke-linejoin="round" points="286.35,346.84 306.93,336.71 327.51,344.5 337.8,352.68 358.38,326.98 368.68,352.68 378.97,350.74 389.26,356.19 409.84,350.54 420.13,338.86 430.42,340.61 440.72,343.72 451.01,342.17 461.3,342.56 471.59,339.44 481.88,339.44 492.17,342.56 502.46,337.49 512.75,337.49"/>
<circle cx="286.35" cy="346.84" r="1.5" fill="#181818"/>
<circle cx="306.93" cy="336.71" r="1.5" fill="#181818"/>
<circle cx="327.51" cy="344.5" r="1.5" fill="#181818"/>
<circle cx="337.8" cy="352.68" r="1.5" fill="#181818"/>
<circle cx="358.38" cy="326.98" r="1.5" fill="#181818"/>
<circle cx="368.68" cy="352.68" r="1.5" fill="#181818"/>
<circle cx="378.97" cy="350.74" r="1.5" fill="#181818"/>
<circle cx="389.26" cy="356.19" r="1.5" fill="#181818"/>
<circle cx="409.84" cy="350.54" r="1.5" fill="#181818"/>
<circle cx="420.13" cy="338.86" r="1.5" fill="#181818"/>
<circle cx="430.42" cy="340.61" r="1.5" fill="#181818"/>
<circle cx="440.72" cy="343.72" r="1.5" fill="#181818"/>
<circle cx="451.01" cy="342.17" r="1.5" fill="#181818"/>
<circle cx="461.3" cy="342.56" r="1.5" fill="#181818"/>
<circle cx="471.59" cy="339.44" r="1.5" fill="#181818"/>
<circle cx="481.88" cy="339.44" r="1.5" fill="#181818"/>
<circle cx="492.17" cy="342.56" r="1.5" fill="#181818"/>
<circle cx="502.46" cy="337.49" r="1.5" fill="#181818"/>
<circle cx="512.75" cy="337.49" r="1.5" fill="#181818"/>
<rect x="446.4" y="235.3" width="33.6" height="24.2" fill="#fff"/>
<line x1="450" x2="462.6" y1="241.96" y2="241.96" stroke="#333" stroke-width="0.6"/>
<circle cx="456.3" cy="241.96" r="1.75" fill="#111"/>
<text x="464" y="244.22" font-size="6.3" fill="#2a2a2a" textLength="14" lengthAdjust="spacingAndGlyphs">BRAD</text>
<line x1="450" x2="462.6" y1="253.33" y2="253.33" stroke="#7d7d7d" stroke-width="0.6"/>
<path d="M456.3 251.43l1.8 3.2h-3.6z" fill="#8a8a8a" stroke="#777" stroke-width="0.3"/>
<text x="464" y="255.6" font-size="6.3" fill="#2a2a2a" textLength="12.04" lengthAdjust="spacingAndGlyphs">SEMI</text>
<text x="393" y="415" font-size="8.6" font-weight="bold" fill="#111" textLength="22" lengthAdjust="spacingAndGlyphs">Weeks</text>
<text transform="translate(269.8 318.4) rotate(-90)" font-size="6.2" font-weight="bold" fill="#111" textLength="41.6" lengthAdjust="spacingAndGlyphs">% FIX Activity</text>
<text x="265.6" y="213.3" font-size="12" font-weight="bold" fill="#000">D</text>
</g>
<g>
<line x1="116.1" x2="116.1" y1="428.7" y2="568.4" stroke="#111" stroke-width="1.2"/>
<line x1="116.1" x2="436.42" y1="568.4" y2="568.4" stroke="#111" stroke-width="1.2"/>
<line x1="114.5" x2="116.1" y1="568.4" y2="568.4" stroke="#111" stroke-width="0.6"/>
<text x="110.2" y="570.3" font-size="4.5" font-weight="bold" text-anchor="end" fill="#111">0</text>
<line x1="114.5" x2="116.1" y1="545.25" y2="545.25" stroke="#111" stroke-width="0.6"/>
<text x="110.2" y="547.15" font-size="4.5" font-weight="bold" text-anchor="end" fill="#111">100</text>
<line x1="114.5" x2="116.1" y1="522.1" y2="522.1" stroke="#111" stroke-width="0.6"/>
<text x="110.2" y="524" font-size="4.5" font-weight="bold" text-anchor="end" fill="#111">200</text>
<line x1="114.5" x2="116.1" y1="498.95" y2="498.95" stroke="#111" stroke-width="0.6"/>
<text x="110.2" y="500.85" font-size="4.5" font-weight="bold" text-anchor="end" fill="#111">300</text>
<line x1="114.5" x2="116.1" y1="475.8" y2="475.8" stroke="#111" stroke-width="0.6"/>
<text x="110.2" y="477.7" font-size="4.5" font-weight="bold" text-anchor="end" fill="#111">400</text>
<line x1="114.5" x2="116.1" y1="452.65" y2="452.65" stroke="#111" stroke-width="0.6"/>
<text x="110.2" y="454.55" font-size="4.5" font-weight="bold" text-anchor="end" fill="#111">500</text>
<line x1="114.5" x2="116.1" y1="429.5" y2="429.5" stroke="#111" stroke-width="0.6"/>
<text x="110.2" y="431.4" font-size="4.5" font-weight="bold" text-anchor="end" fill="#111">600</text>
<line x1="116.1" x2="116.1" y1="568.4" y2="570" stroke="#111" stroke-width="0.6"/>
<text x="116.1" y="576.9" font-size="4.5" font-weight="bold" text-anchor="middle" fill="#111">0</text>
<line x1="156.14" x2="156.14" y1="568.4" y2="570" stroke="#111" stroke-width="0.6"/>
<text x="156.14" y="576.9" font-size="4.5" font-weight="bold" text-anchor="middle" fill="#111">1</text>
<line x1="196.18" x2="196.18" y1="568.4" y2="570" stroke="#111" stroke-width="0.6"/>
<text x="196.18" y="576.9" font-size="4.5" font-weight="bold" text-anchor="middle" fill="#111">2</text>
<line x1="236.22" x2="236.22" y1="568.4" y2="570" stroke="#111" stroke-width="0.6"/>
<text x="236.22" y="576.9" font-size="4.5" font-weight="bold" text-anchor="middle" fill="#111">3</text>
<line x1="276.26" x2="276.26" y1="568.4" y2="570" stroke="#111" stroke-width="0.6"/>
<text x="276.26" y="576.9" font-size="4.5" font-weight="bold" text-anchor="middle" fill="#111">4</text>
<line x1="316.3" x2="316.3" y1="568.4" y2="570" stroke="#111" stroke-width="0.6"/>
<text x="316.3" y="576.9" font-size="4.5" font-weight="bold" text-anchor="middle" fill="#111">5</text>
<line x1="356.34" x2="356.34" y1="568.4" y2="570" stroke="#111" stroke-width="0.6"/>
<text x="356.34" y="576.9" font-size="4.5" font-weight="bold" text-anchor="middle" fill="#111">6</text>
<line x1="396.38" x2="396.38" y1="568.4" y2="570" stroke="#111" stroke-width="0.6"/>
<text x="396.38" y="576.9" font-size="4.5" font-weight="bold" text-anchor="middle" fill="#111">7</text>
<line x1="436.42" x2="436.42" y1="568.4" y2="570" stroke="#111" stroke-width="0.6"/>
<text x="436.42" y="576.9" font-size="4.5" font-weight="bold" text-anchor="middle" fill="#111">8</text>
<polyline fill="none" stroke="#1a1a1a" stroke-width="0.95" stroke-linejoin="round" points="116.1,568.4 120.1,464.92 128.11,442.7 148.93,453.11 168.95,475.57 208.19,469.78 436.42,459.36"/>
<polyline fill="none" stroke="#1a1a1a" stroke-width="0.95" stroke-linejoin="round" points="116.1,568.4 120.1,531.36 128.11,508.21 136.92,532.05 148.93,526.27 168.95,482.05 208.19,482.05 436.42,530.2"/>
<path d="M116.1 566.2l2.2 2.2l-2.2 2.2l-2.2 -2.2z" fill="#111"/>
<path d="M120.1 462.72l2.2 2.2l-2.2 2.2l-2.2 -2.2z" fill="#111"/>
<path d="M128.11 440.5l2.2 2.2l-2.2 2.2l-2.2 -2.2z" fill="#111"/>
<path d="M148.93 450.91l2.2 2.2l-2.2 2.2l-2.2 -2.2z" fill="#111"/>
<path d="M168.95 473.37l2.2 2.2l-2.2 2.2l-2.2 -2.2z" fill="#111"/>
<path d="M208.19 467.58l2.2 2.2l-2.2 2.2l-2.2 -2.2z" fill="#111"/>
<path d="M436.42 457.16l2.2 2.2l-2.2 2.2l-2.2 -2.2z" fill="#111"/>
<rect x="114.4" y="566.7" width="3.4" height="3.4" fill="#111"/>
<rect x="118.4" y="529.66" width="3.4" height="3.4" fill="#111"/>
<rect x="126.41" y="506.51" width="3.4" height="3.4" fill="#111"/>
<rect x="135.22" y="530.35" width="3.4" height="3.4" fill="#111"/>
<rect x="147.23" y="524.57" width="3.4" height="3.4" fill="#111"/>
<rect x="167.25" y="480.35" width="3.4" height="3.4" fill="#111"/>
<rect x="206.49" y="480.35" width="3.4" height="3.4" fill="#111"/>
<rect x="434.72" y="528.5" width="3.4" height="3.4" fill="#111"/>
<text x="247" y="591.9" font-size="11" font-weight="bold" text-anchor="middle" fill="#111">years</text>
<text transform="translate(87.6 529.2) rotate(-90)" font-size="7.6" font-weight="bold" fill="#111" textLength="47" lengthAdjust="spacingAndGlyphs">cFIX (ng/mL)</text>
<text x="81" y="437.4" font-size="10.8" font-weight="bold" fill="#000">E</text>
</g>
</svg></body></html>
